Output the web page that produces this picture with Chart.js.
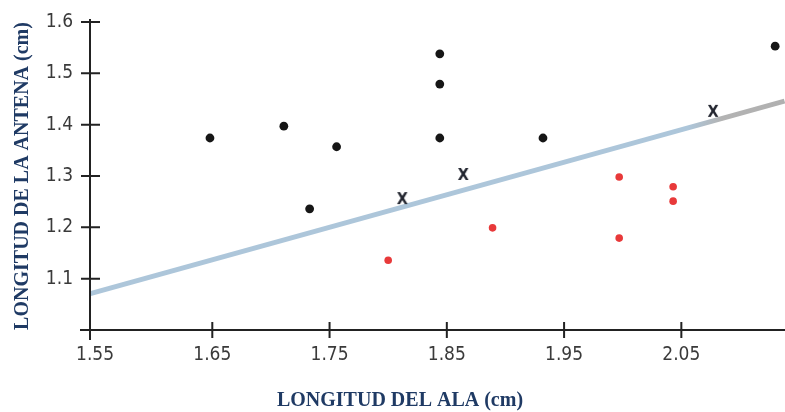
<!DOCTYPE html>
<html>
<head>
<meta charset="utf-8">
<script src="https://cdn.jsdelivr.net/npm/chart.js@4.4.1/dist/chart.umd.min.js"></script>
<style>
html, body { margin: 0; padding: 0; background: #fff; }
canvas { display: block; }
</style>
</head>
<body>
<canvas id="chart" width="785" height="412"></canvas>
<script>
var xTicks = [1.55, 1.65, 1.75, 1.85, 1.95, 2.05];
var yTicks = [1.1, 1.2, 1.3, 1.4, 1.5, 1.6];

var blackX = [1.648, 1.711, 1.733, 1.756, 1.844, 1.844, 1.844, 1.932, 2.130];
var blackY = [1.374, 1.397, 1.236, 1.357, 1.538, 1.479, 1.374, 1.374, 1.553];

var redX = [1.800, 1.889, 1.997, 1.997, 2.043, 2.043];
var redY = [1.136, 1.199, 1.298, 1.179, 1.279, 1.251];

var crossX = [1.812, 1.864, 2.077];
var crossY = [1.255, 1.302, 1.425];

var fitX = [1.546, 2.138];
var fitY = [1.071, 1.446];

var xTitle = 'LONGITUD DEL ALA (cm)';
var yTitle = 'LONGITUD DE LA ANTENA (cm)';

function pts(xs, ys) {
	return xs.map(function (x, i) { return { x: x, y: ys[i] }; });
}

// letter-like X marker
var xMark = document.createElement('canvas');
xMark.width = 12;
xMark.height = 16;
(function () {
	var c = xMark.getContext('2d');
	c.fillStyle = '#22252f';
	c.font = 'bold 16px "DejaVu Sans Condensed", "DejaVu Sans", sans-serif';
	c.textAlign = 'center';
	c.textBaseline = 'middle';
	c.fillText('X', 6, 8.5);
})();

var axisLines = {
	id: 'axisLines',
	afterDraw: function (chart) {
		var ctx = chart.ctx;
		var xs = chart.scales.x;
		var ys = chart.scales.y;
		var x0 = xs.left;
		var y0 = ys.bottom;
		ctx.save();
		ctx.strokeStyle = '#222';
		ctx.lineWidth = 2;
		ctx.beginPath();
		ctx.moveTo(x0, ys.top - 3);
		ctx.lineTo(x0, y0 + 10);
		ctx.moveTo(x0 - 10, y0);
		ctx.lineTo(chart.width, y0);
		yTicks.forEach(function (v) {
			var p = ys.getPixelForValue(v);
			ctx.moveTo(x0 - 9, p);
			ctx.lineTo(x0 + 10, p);
		});
		xTicks.forEach(function (v, i) {
			if (i === 0) {
				return;
			}
			var p = xs.getPixelForValue(v);
			ctx.moveTo(p, y0 - 8);
			ctx.lineTo(p, y0 + 8);
		});
		ctx.stroke();

		// x title sits left of the plot centre in the original
		ctx.fillStyle = '#1f3a64';
		ctx.font = 'bold 20px "Liberation Serif", serif';
		ctx.textAlign = 'center';
		ctx.textBaseline = 'middle';
		ctx.fillText(xTitle, 400, 401);
		ctx.restore();
	}
};

var tickFont = { family: '"DejaVu Sans Condensed", "DejaVu Sans", sans-serif', size: 19 };
var titleFont = { family: '"Liberation Serif", serif', size: 20, weight: 'bold' };

new Chart(document.getElementById('chart'), {
	type: 'scatter',
	data: {
		datasets: [{
			type: 'line',
			data: pts(fitX, fitY),
			borderWidth: 5,
			borderColor: function (context) {
				var area = context.chart.chartArea;
				if (!area) {
					return '#adc6da';
				}
				var g = context.chart.ctx.createLinearGradient(area.left, 0, area.right, 0);
				g.addColorStop(0, '#adc6da');
				g.addColorStop(0.86, '#adc6da');
				g.addColorStop(0.91, '#b3b3b3');
				g.addColorStop(1, '#b0b0b0');
				return g;
			},
			pointRadius: 0,
			fill: false,
			clip: false,
			order: 10
		}, {
			data: pts(blackX, blackY),
			pointRadius: 4.4,
			pointBackgroundColor: '#161616',
			pointBorderWidth: 0,
			clip: false
		}, {
			data: pts(redX, redY),
			pointRadius: 3.8,
			pointBackgroundColor: '#e8393a',
			pointBorderWidth: 0,
			clip: false
		}, {
			data: pts(crossX, crossY),
			pointStyle: xMark,
			clip: false
		}]
	},
	options: {
		responsive: false,
		animation: false,
		layout: { autoPadding: false, padding: { top: 22, right: 0, left: 0, bottom: 0 } },
		plugins: {
			legend: { display: false },
			tooltip: { enabled: false }
		},
		scales: {
			x: {
				type: 'linear',
				min: 1.5457,
				max: 2.1384,
				afterBuildTicks: function (s) {
					s.ticks = xTicks.map(function (v) { return { value: v }; });
				},
				afterFit: function (s) {
					s.height = 82;
					s.paddingLeft = 0;
					s.paddingRight = 0;
				},
				grid: { display: false },
				border: { display: false },
				ticks: {
					autoSkip: false,
					maxRotation: 0,
					padding: 6,
					color: '#3a3a3a',
					font: tickFont,
					callback: function (v) { return v.toFixed(2); }
				}
			},
			y: {
				min: 1.0,
				max: 1.6,
				afterBuildTicks: function (s) {
					s.ticks = yTicks.map(function (v) { return { value: v }; });
				},
				afterFit: function (s) {
					s.width = 90;
					s.paddingTop = 0;
					s.paddingBottom = 0;
				},
				grid: { display: false },
				border: { display: false },
				ticks: {
					autoSkip: false,
					padding: 9,
					color: '#3a3a3a',
					font: tickFont,
					callback: function (v) { return v.toFixed(1); }
				},
				title: {
					display: true,
					text: yTitle,
					color: '#1f3a64',
					font: titleFont,
					padding: { top: 11, bottom: 0 }
				}
			}
		}
	},
	plugins: [axisLines]
});
</script>
</body>
</html>
